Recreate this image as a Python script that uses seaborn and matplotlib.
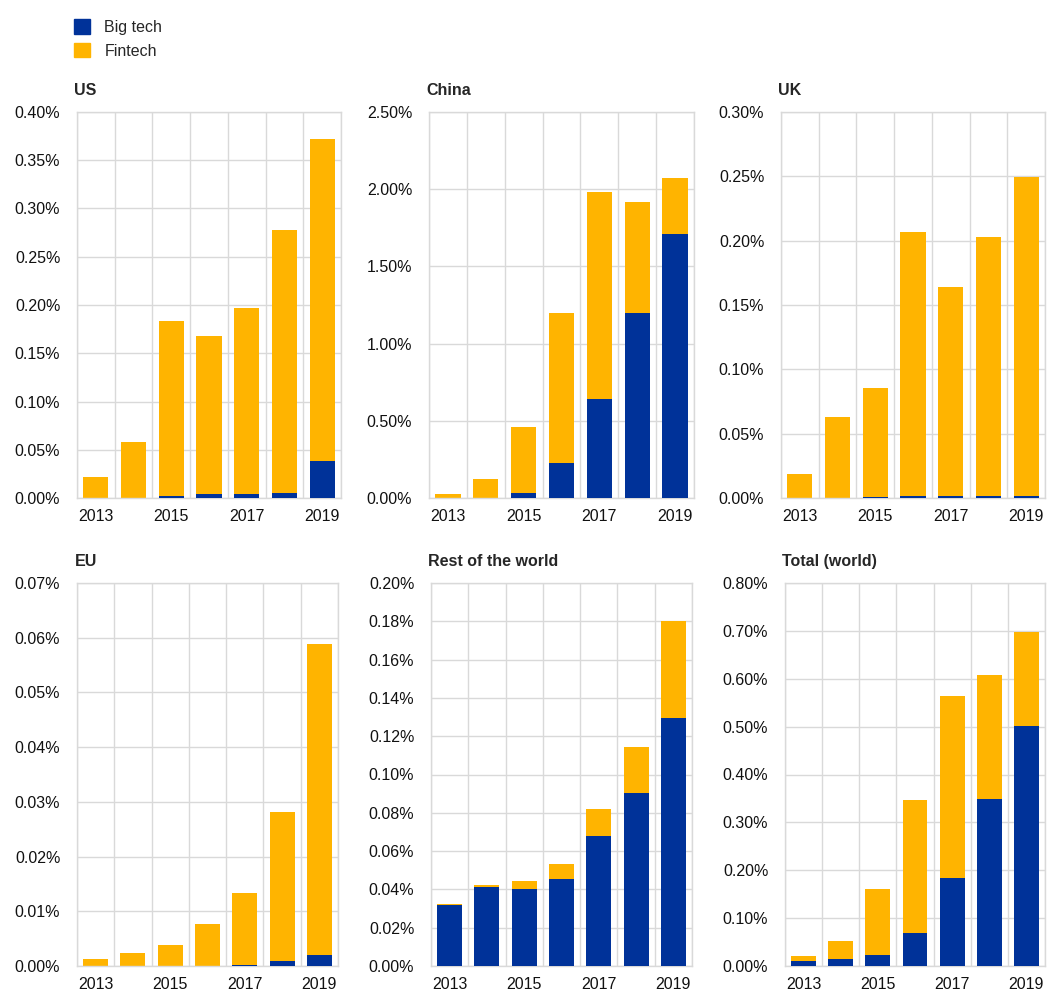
import matplotlib
matplotlib.use("Agg")
import matplotlib.pyplot as plt
import matplotlib.patches as mpatches
import seaborn as sns
import numpy as np

# years on the x axis
years = ['2013', '2014', '2015', '2016', '2017', '2018', '2019']

# credit as % of GDP, big tech and fintech
us_big = [0.0, 0.0, 0.0024, 0.0045, 0.0045, 0.0048, 0.0386]
us_fin = [0.0217, 0.0583, 0.1814, 0.1631, 0.1921, 0.2728, 0.3331]

china_big = [0.0, 0.0, 0.034, 0.226, 0.642, 1.198, 1.707]
china_fin = [0.028, 0.125, 0.429, 0.974, 1.343, 0.716, 0.366]

uk_big = [0.0, 0.0, 0.001, 0.0018, 0.0018, 0.0015, 0.0018]
uk_fin = [0.0186, 0.0631, 0.0843, 0.2053, 0.1622, 0.2012, 0.2477]

eu_big = [0.0, 0.0, 0.0, 0.0, 0.0001, 0.00085, 0.00195]
eu_fin = [0.00134, 0.0023, 0.0038, 0.0077, 0.0133, 0.02725, 0.05685]

row_big = [0.0319, 0.0415, 0.0403, 0.0455, 0.068, 0.0903, 0.1297]
row_fin = [0.0007, 0.0009, 0.004, 0.0077, 0.0138, 0.0241, 0.0506]

world_big = [0.0105, 0.0147, 0.0223, 0.0698, 0.183, 0.348, 0.5005]
world_fin = [0.0111, 0.0383, 0.1387, 0.2772, 0.3817, 0.26, 0.1962]

titles = ['US', 'China', 'UK', 'EU', 'Rest of the world', 'Total (world)']
y_max = [0.40, 2.50, 0.30, 0.07, 0.20, 0.80]
y_step = [0.05, 0.50, 0.05, 0.01, 0.02, 0.10]

blue = '#003299'
orange = '#FFB400'
grid_col = '#d9d9d9'

sns.set_style("white")
plt.rcParams['font.family'] = ['Liberation Sans', 'DejaVu Sans']

W, H = 1047, 991
fig = plt.figure(figsize=(W / 100, H / 100), dpi=100)

panels = [(us_big, us_fin), (china_big, china_fin), (uk_big, uk_fin),
          (eu_big, eu_fin), (row_big, row_fin), (world_big, world_fin)]

# panel boxes in pixels: left, top, width, height
boxes = [(77, 112, 264, 386), (429, 112, 265, 386), (781, 112, 264, 386),
         (77, 583, 261, 383), (431, 583, 261, 383), (785, 583, 260, 383)]

for i, (big, fin) in enumerate(panels):
    l, t, w, h = boxes[i]
    ax = fig.add_axes([l / W, 1 - (t + h) / H, w / W, h / H])
    total = [b + f for b, f in zip(big, fin)]

    # stacked bars: total in orange, big tech drawn over it in blue
    sns.barplot(x=years, y=total, color=orange, saturation=1, width=0.67,
                linewidth=0, ax=ax, zorder=2)
    sns.barplot(x=years, y=big, color=blue, saturation=1, width=0.67,
                linewidth=0, ax=ax, zorder=3)

    ax.set_xlim(-0.5, 6.5)
    ax.set_ylim(0, y_max[i])
    ticks = np.arange(0, y_max[i] + y_step[i] / 2, y_step[i])
    ax.set_yticks(ticks)
    ax.set_yticklabels(['%.2f%%' % t for t in ticks])
    ax.set_xticks(range(7))
    ax.set_xticklabels([y if k % 2 == 0 else '' for k, y in enumerate(years)])
    ax.set_xticks(np.arange(-0.5, 7, 1), minor=True)
    ax.tick_params(axis='both', which='both', length=0, labelsize=11.5, colors='#111111')
    ax.tick_params(axis='y', pad=12)
    ax.tick_params(axis='x', pad=8)

    ax.set_axisbelow(True)
    ax.grid(axis='y', which='major', color=grid_col, linewidth=1)
    ax.grid(axis='x', which='minor', color=grid_col, linewidth=1)
    ax.grid(axis='x', which='major', visible=False)
    for s in ax.spines.values():
        s.set_color(grid_col)
        s.set_linewidth(1)

    ax.set_xlabel('')
    ax.set_ylabel('')
    ax.set_title(titles[i], loc='left', fontsize=11.5, fontweight='bold', pad=12, x=-0.01)

handles = [mpatches.Patch(color=blue, label='Big tech'),
           mpatches.Patch(color=orange, label='Fintech')]
fig.legend(handles=handles, loc='upper left', bbox_to_anchor=(0.057, 0.995),
           frameon=False, fontsize=11.5, handlelength=1.0, handleheight=1.0,
           handletextpad=0.9, labelspacing=0.5)

fig.savefig('out.png', dpi=100)
